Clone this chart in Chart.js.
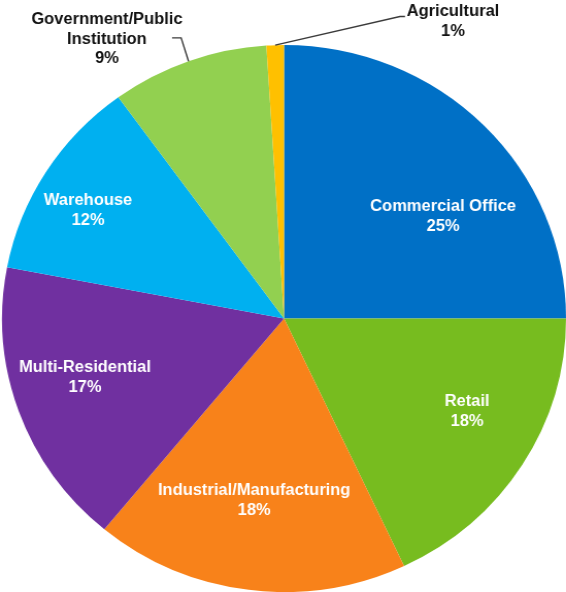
<!DOCTYPE html>
<html>
<head>
<meta charset="utf-8">
<title>Projects by Building Type</title>
<script src="https://cdn.jsdelivr.net/npm/chart.js@4/dist/chart.umd.min.js"></script>
<style>
    html, body { margin: 0; padding: 0; background: #fff; overflow: hidden; }
    #wrap { width: 566px; height: 592px; position: relative; }
    /* pie is drawn slightly wider than tall */
    #buildingPie { transform: scaleX(1.031); transform-origin: 0 0; display: block; }
</style>
</head>
<body>
<div id="wrap"><canvas id="buildingPie" width="549" height="592"></canvas></div>
<script>
// ============================================
// Building type share - pie
// ============================================

const categories = [
    'Commercial Office',
    'Retail',
    'Industrial/Manufacturing',
    'Multi-Residential',
    'Warehouse',
    'Government/Public Institution',
    'Agricultural'
];
const shares = [25, 18, 18, 17, 12, 9, 1];
const sliceColors = ['#0070C6', '#77BC1F', '#F8821A', '#7030A0', '#00B0F0', '#92D050', '#FFC000'];

// label text lines per slice
const labelLines = [
    ['Commercial Office'],
    ['Retail'],
    ['Industrial/Manufacturing'],
    ['Multi-Residential'],
    ['Warehouse'],
    ['Government/Public', 'Institution'],
    ['Agricultural']
];

// label anchor, in units of the pie radius from its centre
const labelSpots = [
    [0.564, -0.373],
    [0.649, 0.340],
    [-0.106, 0.665],
    [-0.706, 0.216],
    [-0.695, -0.395],
    [-0.628, -1.020],
    [0.599, -1.086]
];

// leader lines for the outside labels: elbow, then end (radius units)
const leaders = {
    5: [[-0.365, -1.026], [-0.397, -1.026]],
    6: [[0.411, -1.104], [0.429, -1.104]]
};

// --- Slice labels + leader lines ---
const sliceLabels = {
    id: 'sliceLabels',
    afterDatasetsDraw(chart) {
        const ctx = chart.ctx;
        const arcs = chart.getDatasetMeta(0).data;
        ctx.save();
        ctx.font = 'bold 16px "Liberation Sans", Arial, sans-serif';
        ctx.textAlign = 'center';
        ctx.textBaseline = 'middle';

        arcs.forEach((arc, i) => {
            const { x, y, outerRadius, startAngle, endAngle } = arc.getProps(['x', 'y', 'outerRadius', 'startAngle', 'endAngle'], true);
            const outside = leaders[i] !== undefined;

            if (outside) {
                const mid = (startAngle + endAngle) / 2;
                ctx.beginPath();
                ctx.moveTo(x + Math.cos(mid) * outerRadius, y + Math.sin(mid) * outerRadius);
                leaders[i].forEach(p => ctx.lineTo(x + p[0] * outerRadius, y + p[1] * outerRadius));
                ctx.strokeStyle = '#3a3a3a';
                ctx.lineWidth = 1.4;
                ctx.stroke();
            }

            const lines = labelLines[i].concat([shares[i] + '%']);
            const lx = x + labelSpots[i][0] * outerRadius;
            const ly = y + labelSpots[i][1] * outerRadius;
            const step = 19.5;
            ctx.fillStyle = outside ? '#111' : '#fff';
            lines.forEach((t, k) => {
                ctx.fillText(t, lx, ly + (k - (lines.length - 1) / 2) * step);
            });
        });
        ctx.restore();
    }
};

document.addEventListener('DOMContentLoaded', () => {
    const el = document.getElementById('buildingPie');
    new Chart(el, {
        type: 'pie',
        data: {
            labels: categories,
            datasets: [{
                data: shares,
                backgroundColor: sliceColors,
                borderWidth: 0,
                offset: 0,
                hoverOffset: 0
            }]
        },
        options: {
            responsive: false,
            animation: false,
            layout: { padding: { top: 45, bottom: 0, left: 2, right: 0 } },
            plugins: { legend: { display: false }, tooltip: { enabled: false } }
        },
        plugins: [sliceLabels]
    });
});
</script>
</body>
</html>
